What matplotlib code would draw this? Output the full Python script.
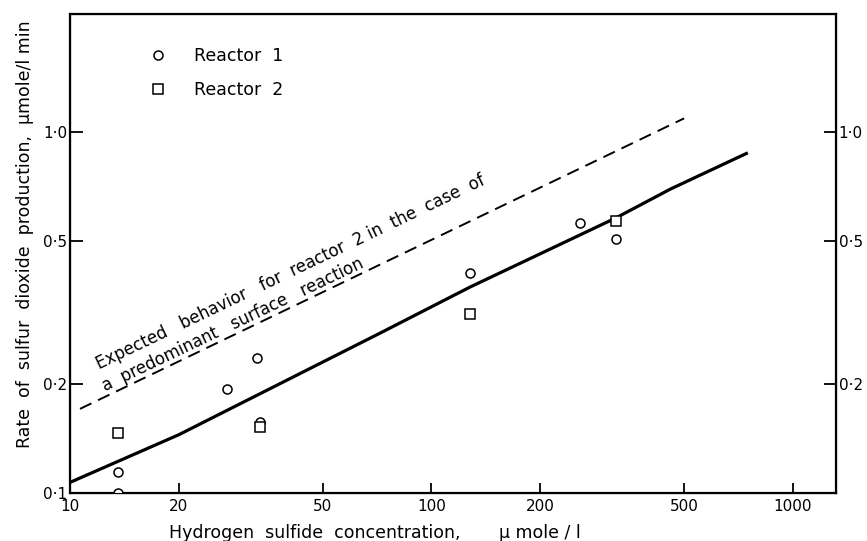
import matplotlib
matplotlib.use("Agg")
import matplotlib.pyplot as plt
from matplotlib.ticker import NullLocator, FixedLocator, FixedFormatter

# Donnees (echelle log-log)
r1_x = [13.6, 13.6, 27.2, 33.6, 33.0, 128, 257, 324]
r1_y = [0.114, 0.100, 0.194, 0.157, 0.237, 0.406, 0.560, 0.506]

r2_x = [13.6, 33.6, 128, 324]
r2_y = [0.147, 0.152, 0.313, 0.566]

# Droite tracee a la main (trait plein)
fit_x = [10, 20, 72, 128, 324, 459, 750]
fit_y = [0.107, 0.145, 0.277, 0.372, 0.578, 0.695, 0.875]

# Comportement attendu (tirets)
exp_x = [10.66, 500]
exp_y = [0.171, 1.09]

x_ticks = [10, 20, 50, 100, 200, 500, 1000]
x_labels = ["10", "20", "50", "100", "200", "500", "1000"]
y_ticks = [0.1, 0.2, 0.5, 1.0]
y_labels = ["0·1", "0·2", "0·5", "1·0"]
y2_ticks = [0.2, 0.5, 1.0]
y2_labels = ["0·2", "0·5", "1·0"]

plt.rcParams['font.family'] = ['DejaVu Sans']

fig = plt.figure(figsize=(8.67, 5.41), dpi=100)
ax = fig.add_axes([0.0807, 0.0887, 0.8835, 0.8854])
ax.set_xscale('log')
ax.set_yscale('log')
ax.set_xlim(10, 1315)
ax.set_ylim(0.1, 2.12)

ax.plot(fit_x, fit_y, color='black', lw=2.3, solid_capstyle='butt', zorder=2)
ax.plot(exp_x, exp_y, color='black', lw=1.4, linestyle=(0, (6.5, 3.8)), zorder=2)

ax.plot(r1_x, r1_y, 'o', ms=6.5, mfc='white', mec='black', mew=1.1,
        linestyle='none', label='Reactor  1', zorder=3)
ax.plot(r2_x, r2_y, 's', ms=7.5, mfc='white', mec='black', mew=1.1,
        linestyle='none', label='Reactor  2', zorder=3)

# Texte le long de la courbe en tirets
ax.text(40.9, 0.41, "Expected   behavior   for  reactor  2 in  the  case  of",
        rotation=25.6, rotation_mode='anchor', ha='center', va='center', fontsize=12)
ax.text(28.3, 0.292, "a  predominant   surface   reaction",
        rotation=25.6, rotation_mode='anchor', ha='center', va='center', fontsize=12)

for s in ax.spines.values():
    s.set_linewidth(1.6)

ax.xaxis.set_major_locator(FixedLocator(x_ticks))
ax.xaxis.set_major_formatter(FixedFormatter(x_labels))
ax.xaxis.set_minor_locator(NullLocator())
ax.yaxis.set_major_locator(FixedLocator(y_ticks))
ax.yaxis.set_major_formatter(FixedFormatter(y_labels))
ax.yaxis.set_minor_locator(NullLocator())
ax.tick_params(axis='x', direction='in', length=7, width=1.3, labelsize=11, pad=4)
ax.tick_params(axis='y', direction='in', length=9, width=1.3, labelsize=11, pad=2)

ax2 = ax.twinx()
ax2.set_yscale('log')
ax2.set_ylim(ax.get_ylim())
ax2.yaxis.set_major_locator(FixedLocator(y2_ticks))
ax2.yaxis.set_major_formatter(FixedFormatter(y2_labels))
ax2.yaxis.set_minor_locator(NullLocator())
ax2.tick_params(axis='y', direction='in', length=9, width=1.3, labelsize=11, pad=2)

leg = ax.legend(loc='upper left', bbox_to_anchor=(0.103, 0.932), frameon=False,
                numpoints=1, handlelength=1.0, handletextpad=1.6, labelspacing=0.95,
                borderpad=0, borderaxespad=0, fontsize=12.5)

fig.text(25 / 867, 1 - 234 / 541, "Rate  of  sulfur  dioxide  production,  μmole/l min",
         rotation=90, ha='center', va='center', fontsize=12.5)
fig.text(375 / 867, 1 - 533 / 541, "Hydrogen  sulfide  concentration,       μ mole / l",
         ha='center', va='center', fontsize=12.5)

fig.savefig("out.png", dpi=100)
